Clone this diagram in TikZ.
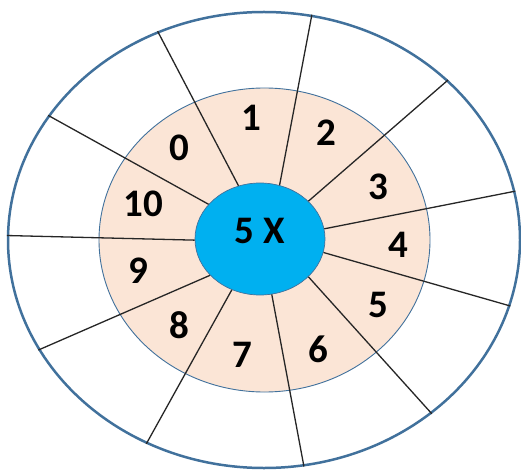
\documentclass[tikz,border=0pt]{standalone}
\usepackage{fontspec}
\setmainfont{Carlito}
\usetikzlibrary{shapes.geometric}

\definecolor{rimblue}{HTML}{41719C}
\definecolor{peach}{HTML}{FBE5D6}
\definecolor{hubblue}{HTML}{00B0F0}

\begin{document}
\begin{tikzpicture}[
  x=1pt,
  y=-1pt,
  font=\fontsize{39}{44}\selectfont\bfseries,
  rim/.style={
    ellipse,
    draw=rimblue,
    line width=2.5pt,
    fill=white,
    inner sep=0pt
  },
  ring/.style={
    ellipse,
    draw=rimblue,
    line width=0.9pt,
    fill=peach,
    inner sep=0pt
  },
  hubnode/.style={
    ellipse,
    draw=rimblue,
    line width=0.7pt,
    fill=hubblue,
    inner sep=0pt,
    text depth=16pt
  },
  spoke/.style={
    line width=1.3pt,
    black!85
  },
  num/.style={
    inner sep=0pt
  }
]

\useasboundingbox (0,0) rectangle (521,470);

% =========================================================
% ELLIPSES
% =========================================================

\node[rim, minimum width=512pt, minimum height=456pt] (outer) at (264,240) {};

\node[ring, minimum width=331pt, minimum height=304pt] (inner) at (264.5,240) {};

\node[hubnode, minimum width=130pt, minimum height=112pt] (hub) at (260,239) {5 X};

% =========================================================
% SPOKES
% =========================================================

\foreach \a/\b in {112/117, 70/78, 38/41.3, 9.6/11.4, -12.5/-15.8,
                   -38.4/-46.5, -78.9/-80.5, 241.7/240.4, 216.2/206.7,
                   181.7/179.5, 146.6/150.2}
  \draw[spoke] (hub.\a) -- (outer.\b);

% =========================================================
% NUMBERS
% =========================================================

\node[num] (n0) at (179,148) {0};
\node[num] (n1) at (251,118) {1};
\node[num] (n2) at (326,133) {2};
\node[num] (n3) at (378,187) {3};
\node[num] (n4) at (398,245) {4};
\node[num] (n5) at (378,305) {5};
\node[num] (n6) at (318,349) {6};
\node[num] (n7) at (242,355) {7};
\node[num] (n8) at (179,325) {8};
\node[num] (n9) at (138,271) {9};
\node[num] (n10) at (143,204) {10};

\end{tikzpicture}
\end{document}
